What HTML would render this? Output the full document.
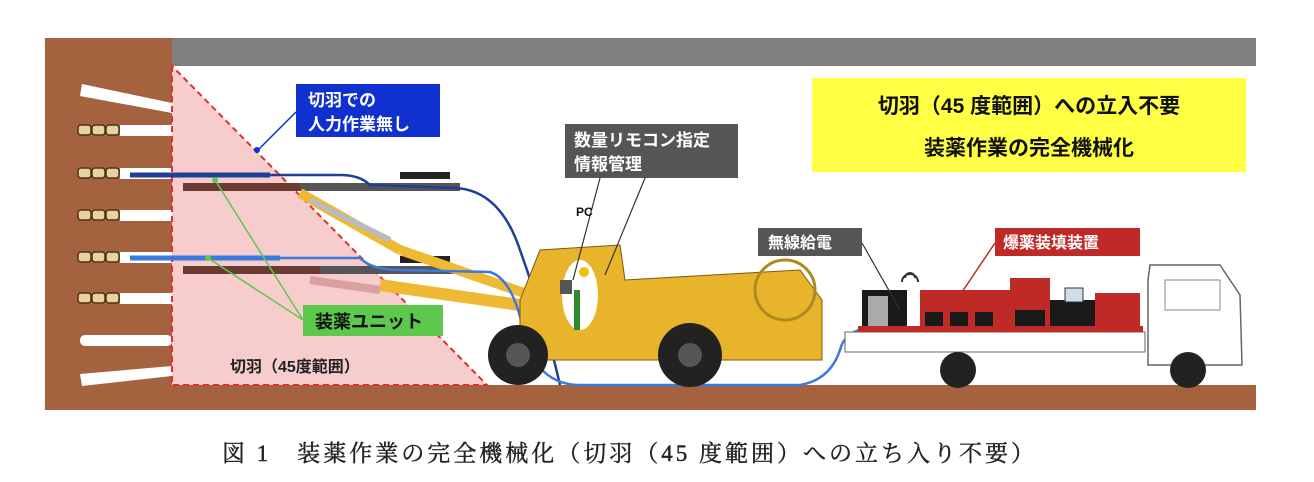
<!DOCTYPE html>
<html><head><meta charset="utf-8"><style>
body{margin:0;background:#fff;}
svg{display:block;font-family:"Liberation Sans","Noto Sans CJK JP",sans-serif;}
</style></head><body>
<svg width="1314" height="482" viewBox="0 0 1314 482" xmlns="http://www.w3.org/2000/svg">
<rect x="172" y="38" width="1084" height="28" fill="#7f7f7f"/>
<rect x="45" y="38" width="127" height="372" fill="#a5623f"/>
<rect x="172" y="385" width="1084" height="25" fill="#a5623f"/>
<g fill="#fff">
<polygon points="82,84 172,103 172,113 80,96"/>
<rect x="120" y="125" width="52" height="11"/>
<rect x="120" y="168" width="52" height="11"/>
<rect x="120" y="210" width="52" height="11"/>
<rect x="120" y="252" width="52" height="11"/>
<rect x="120" y="293" width="52" height="11"/>
<rect x="80" y="335" width="92" height="11" rx="5"/>
<polygon points="80,374 172,366 172,376 82,386"/>
</g>
<g fill="#e8d49a" stroke="#4a3320" stroke-width="1.5">
<rect x="78" y="125" width="13" height="10" rx="3"/><rect x="92" y="125" width="13" height="10" rx="3"/><rect x="106" y="125" width="13" height="10" rx="3"/>
<rect x="78" y="168" width="13" height="10" rx="3"/><rect x="92" y="168" width="13" height="10" rx="3"/><rect x="106" y="168" width="13" height="10" rx="3"/>
<rect x="78" y="210" width="13" height="10" rx="3"/><rect x="92" y="210" width="13" height="10" rx="3"/><rect x="106" y="210" width="13" height="10" rx="3"/>
<rect x="78" y="252" width="13" height="10" rx="3"/><rect x="92" y="252" width="13" height="10" rx="3"/><rect x="106" y="252" width="13" height="10" rx="3"/>
<rect x="78" y="293" width="13" height="10" rx="3"/><rect x="92" y="293" width="13" height="10" rx="3"/><rect x="106" y="293" width="13" height="10" rx="3"/>
</g>
<polygon points="172,66 172,385 487,385" fill="#f6cccc" stroke="#e03030" stroke-width="2" stroke-dasharray="6,4"/>
<rect x="183" y="183" width="275" height="8" fill="#6b3a30"/>
<rect x="300" y="183" width="160" height="8" fill="#555"/>
<rect x="183" y="266" width="275" height="8" fill="#6b3a30"/>
<rect x="320" y="266" width="140" height="8" fill="#555"/>
<rect x="400" y="172" width="50" height="7" fill="#222"/>
<rect x="400" y="256" width="50" height="7" fill="#222"/>
<line x1="300" y1="193" x2="400" y2="250" stroke="#f0b933" stroke-width="10"/>
<line x1="310" y1="200" x2="390" y2="240" stroke="#bbb" stroke-width="6"/>
<line x1="380" y1="285" x2="520" y2="305" stroke="#f0b933" stroke-width="12"/>
<line x1="310" y1="280" x2="380" y2="290" stroke="#d9a0a0" stroke-width="8"/>
<line x1="400" y1="250" x2="530" y2="295" stroke="#f0b933" stroke-width="10"/>
<line x1="130" y1="175" x2="270" y2="175" stroke="#1f3f9a" stroke-width="5"/>
<line x1="130" y1="258" x2="280" y2="258" stroke="#3a7ae0" stroke-width="5"/>
<path d="M270,175 L340,175 Q360,175 370,185 L455,188 Q500,190 520,250 Q545,320 560,385" fill="none" stroke="#1f3f9a" stroke-width="2.5"/>
<path d="M280,258 L360,258 Q372,270 400,270 L490,272 Q515,280 525,340 Q540,385 580,385 L800,385 Q830,380 840,350 Q845,330 870,328" fill="none" stroke="#3a7ae0" stroke-width="2.5"/>
<path d="M520,300 L540,250 L620,245 L625,280 L800,270 L822,300 L822,360 L520,360 Z" fill="#e8b42c" stroke="#7a5a10" stroke-width="1"/>
<ellipse cx="580" cy="295" rx="18" ry="35" fill="#fff"/>
<rect x="574" y="290" width="6" height="40" fill="#2d8a2d"/>
<circle cx="584" cy="272" r="5" fill="#f0c000"/>
<rect x="560" y="280" width="12" height="14" fill="#555"/>
<circle cx="785" cy="290" r="30" fill="none" stroke="#b08820" stroke-width="3"/>
<circle cx="518" cy="355" r="30" fill="#222"/><circle cx="518" cy="355" r="12" fill="#555"/>
<circle cx="690" cy="355" r="32" fill="#222"/><circle cx="690" cy="355" r="12" fill="#555"/>
<rect x="845" y="332" width="300" height="20" fill="#fff" stroke="#666"/>
<rect x="862" y="290" width="45" height="40" fill="#1a1a1a"/>
<rect x="868" y="296" width="20" height="30" fill="#aaa"/>
<rect x="920" y="290" width="90" height="40" fill="#c02a26"/>
<rect x="1010" y="278" width="40" height="52" fill="#c02a26"/>
<rect x="1050" y="300" width="45" height="30" fill="#1a1a1a"/>
<rect x="1065" y="288" width="18" height="14" fill="#cde" stroke="#333"/>
<rect x="1095" y="293" width="45" height="37" fill="#c02a26"/>
<g fill="#1a1a1a"><rect x="925" y="312" width="18" height="16"/><rect x="950" y="312" width="18" height="16"/><rect x="975" y="312" width="18" height="16"/><rect x="1015" y="310" width="30" height="18"/></g>
<rect x="858" y="326" width="285" height="6" fill="#c02a26"/>
<path d="M1148,280 L1150,265 L1220,265 L1240,295 L1242,365 L1148,365 Z" fill="#fff" stroke="#666" stroke-width="1.5"/>
<rect x="1165" y="280" width="55" height="30" fill="none" stroke="#888"/>
<circle cx="958" cy="370" r="18" fill="#222"/><circle cx="1188" cy="370" r="18" fill="#222"/>
<path d="M902,282 a8,8 0 0 1 16,0 M905,278 a5,5 0 0 1 10,0" fill="none" stroke="#333" stroke-width="2"/>
<line x1="296" y1="112" x2="258" y2="150" stroke="#1030d0" stroke-width="1.5"/><circle cx="257" cy="150" r="3" fill="#1030d0"/>
<path d="M303,320 L215,180 M303,320 L208,258" stroke="#5cc84c" stroke-width="1.5" fill="none"/>
<circle cx="215" cy="180" r="3" fill="#5cc84c"/><circle cx="208" cy="258" r="3" fill="#5cc84c"/>
<line x1="600" y1="178" x2="573" y2="280" stroke="#333" stroke-width="1.2"/>
<line x1="645" y1="178" x2="605" y2="275" stroke="#333" stroke-width="1.2"/>
<line x1="862" y1="243" x2="900" y2="310" stroke="#333" stroke-width="1.2"/>
<line x1="995" y1="243" x2="960" y2="295" stroke="#c02a26" stroke-width="1.5"/>
<rect x="296" y="84" width="144" height="53" fill="#1030d0"/>
<text x="308" y="106" font-size="17" font-weight="bold" fill="#fff">切羽での</text>
<text x="308" y="130" font-size="17" font-weight="bold" fill="#fff">人力作業無し</text>
<rect x="303" y="305" width="140" height="31" fill="#5cc84c"/>
<text x="315" y="328" font-size="18" font-weight="bold" fill="#111">装薬ユニット</text>
<text x="230" y="372" font-size="16" font-weight="bold" fill="#222">切羽（45度範囲）</text>
<rect x="812" y="78" width="434" height="94" fill="#ffff44"/>
<text x="1029" y="113" font-size="21" font-weight="bold" fill="#111" text-anchor="middle">切羽（45 度範囲）への立入不要</text>
<text x="1029" y="155" font-size="21" font-weight="bold" fill="#111" text-anchor="middle">装薬作業の完全機械化</text>
<rect x="565" y="124" width="173" height="54" fill="#555"/>
<text x="574" y="146" font-size="17" font-weight="bold" fill="#fff">数量リモコン指定</text>
<text x="574" y="170" font-size="17" font-weight="bold" fill="#fff">情報管理</text>
<text x="576" y="216" font-size="12" font-weight="bold" fill="#111">PC</text>
<rect x="758" y="228" width="104" height="28" fill="#555"/>
<text x="768" y="248" font-size="16" font-weight="bold" fill="#fff">無線給電</text>
<rect x="995" y="228" width="145" height="28" fill="#c02a26"/>
<text x="1003" y="248" font-size="16" font-weight="bold" fill="#fff">爆薬装填装置</text>
<text x="222" y="461" font-size="23" letter-spacing="3" fill="#222" stroke="#222" stroke-width="0.4" font-family="Liberation Serif,Noto Serif CJK SC,serif">図 1　装薬作業の完全機械化（切羽（45 度範囲）への立ち入り不要）</text>
</svg>
</body></html>
